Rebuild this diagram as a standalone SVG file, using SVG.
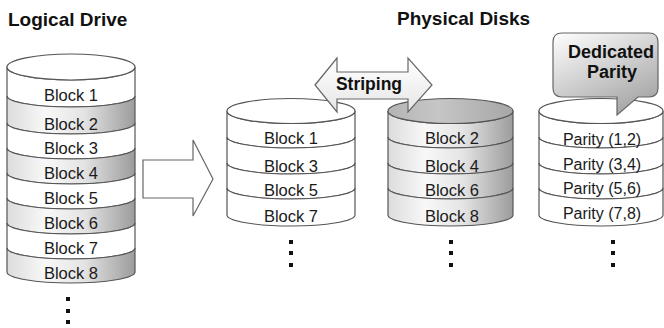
<svg xmlns="http://www.w3.org/2000/svg" width="664" height="328" viewBox="0 0 664 328">
<defs>
<linearGradient id="gBand" x1="0" y1="0" x2="1" y2="0">
<stop offset="0" stop-color="#dcdcdc"/>
<stop offset="0.3" stop-color="#f8f8f8"/>
<stop offset="0.6" stop-color="#e4e4e4"/>
<stop offset="1" stop-color="#9c9c9c"/>
</linearGradient>
<linearGradient id="gTop" x1="0" y1="0" x2="1" y2="0">
<stop offset="0" stop-color="#b4b4b4"/>
<stop offset="0.4" stop-color="#c6c6c6"/>
<stop offset="1" stop-color="#a6a6a6"/>
</linearGradient>
<linearGradient id="gCall" x1="0" y1="0" x2="0.6" y2="1">
<stop offset="0" stop-color="#ffffff"/>
<stop offset="1" stop-color="#a8a8a8"/>
</linearGradient>
<linearGradient id="gStripe" x1="0" y1="0" x2="0" y2="1">
<stop offset="0" stop-color="#ffffff"/>
<stop offset="1" stop-color="#e6e6e6"/>
</linearGradient>
</defs>
<style>
.s{stroke:#555;stroke-width:1.2;}
.w{fill:#fff;}
.g{fill:url(#gBand);}
.t{font-family:"Liberation Sans",Arial,sans-serif;font-size:16.5px;fill:#1a1a1a;text-anchor:middle;}
.p{font-family:"Liberation Sans",Arial,sans-serif;font-size:16px;fill:#1a1a1a;text-anchor:middle;}
.h{font-family:"Liberation Sans",Arial,sans-serif;font-size:19px;font-weight:bold;fill:#111;}
.b{font-family:"Liberation Sans",Arial,sans-serif;font-size:17.5px;font-weight:bold;fill:#111;text-anchor:middle;}
.d{fill:#111;}
</style>
<rect width="664" height="328" fill="#fff"/>

<text class="h" x="8" y="26">Logical Drive</text>
<text class="h" x="397" y="25">Physical Disks</text>

<g id="logical-drive">
<path class="s w" d="M7,67 V96 A64,11 0 0 0 135,96 V67 A64,13 0 0 1 7,67 Z"/>
<path class="s g" d="M7,96 V123 A64,11 0 0 0 135,123 V96 A64,11 0 0 1 7,96 Z"/>
<path class="s w" d="M7,123 V148 A64,11 0 0 0 135,148 V123 A64,11 0 0 1 7,123 Z"/>
<path class="s g" d="M7,148 V173 A64,11 0 0 0 135,173 V148 A64,11 0 0 1 7,148 Z"/>
<path class="s w" d="M7,173 V198 A64,11 0 0 0 135,198 V173 A64,11 0 0 1 7,173 Z"/>
<path class="s g" d="M7,198 V223 A64,11 0 0 0 135,223 V198 A64,11 0 0 1 7,198 Z"/>
<path class="s w" d="M7,223 V248 A64,11 0 0 0 135,248 V223 A64,11 0 0 1 7,223 Z"/>
<path class="s g" d="M7,248 V272 A64,11 0 0 0 135,272 V248 A64,11 0 0 1 7,248 Z"/>
<ellipse class="s w" cx="71" cy="67" rx="64" ry="13"/>
<text class="t" x="71" y="101">Block 1</text>
<text class="t" x="71" y="130">Block 2</text>
<text class="t" x="71" y="154">Block 3</text>
<text class="t" x="71" y="179">Block 4</text>
<text class="t" x="71" y="204">Block 5</text>
<text class="t" x="71" y="229">Block 6</text>
<text class="t" x="71" y="254">Block 7</text>
<text class="t" x="71" y="279">Block 8</text>
<rect class="d" x="66" y="297" width="4" height="4"/>
<rect class="d" x="66" y="309" width="4" height="4"/>
<rect class="d" x="66" y="320" width="4" height="4"/>
</g>

<g id="disk-1">
<path class="s w" d="M227,111 V137 A64,11 0 0 0 355,137 V111 A64,12.5 0 0 1 227,111 Z"/>
<path class="s w" d="M227,137 V163 A64,11 0 0 0 355,163 V137 A64,11 0 0 1 227,137 Z"/>
<path class="s w" d="M227,163 V188 A64,11 0 0 0 355,188 V163 A64,11 0 0 1 227,163 Z"/>
<path class="s w" d="M227,188 V215 A64,11 0 0 0 355,215 V188 A64,11 0 0 1 227,188 Z"/>
<ellipse class="s w" cx="291" cy="111" rx="64" ry="12.5"/>
<text class="t" x="291" y="144">Block 1</text>
<text class="t" x="291" y="172">Block 3</text>
<text class="t" x="291" y="196">Block 5</text>
<text class="t" x="291" y="222">Block 7</text>
<rect class="d" x="289" y="240" width="4" height="4"/>
<rect class="d" x="289" y="251" width="4" height="4"/>
<rect class="d" x="289" y="263" width="4" height="4"/>
</g>

<g id="disk-2">
<path class="s g" d="M388,111 V137 A62.5,11 0 0 0 513,137 V111 A62.5,12.5 0 0 1 388,111 Z"/>
<path class="s g" d="M388,137 V163 A62.5,11 0 0 0 513,163 V137 A62.5,11 0 0 1 388,137 Z"/>
<path class="s g" d="M388,163 V188 A62.5,11 0 0 0 513,188 V163 A62.5,11 0 0 1 388,163 Z"/>
<path class="s g" d="M388,188 V215 A62.5,11 0 0 0 513,215 V188 A62.5,11 0 0 1 388,188 Z"/>
<ellipse class="s" fill="url(#gTop)" cx="450.5" cy="111" rx="62.5" ry="12.5"/>
<text class="t" x="452" y="144">Block 2</text>
<text class="t" x="452" y="172">Block 4</text>
<text class="t" x="452" y="196">Block 6</text>
<text class="t" x="452" y="222">Block 8</text>
<rect class="d" x="449" y="240" width="4" height="4"/>
<rect class="d" x="449" y="251" width="4" height="4"/>
<rect class="d" x="449" y="263" width="4" height="4"/>
</g>

<g id="disk-3">
<path class="s w" d="M539,111 V137 A62,11 0 0 0 663,137 V111 A62,12.5 0 0 1 539,111 Z"/>
<path class="s w" d="M539,137 V163 A62,11 0 0 0 663,163 V137 A62,11 0 0 1 539,137 Z"/>
<path class="s w" d="M539,163 V188 A62,11 0 0 0 663,188 V163 A62,11 0 0 1 539,163 Z"/>
<path class="s w" d="M539,188 V215 A62,11 0 0 0 663,215 V188 A62,11 0 0 1 539,188 Z"/>
<ellipse class="s w" cx="601" cy="111" rx="62" ry="12.5"/>
<text class="p" x="602" y="145">Parity (1,2)</text>
<text class="p" x="602" y="170">Parity (3,4)</text>
<text class="p" x="602" y="194">Parity (5,6)</text>
<text class="p" x="602" y="219">Parity (7,8)</text>
<rect class="d" x="611" y="240" width="4" height="4"/>
<rect class="d" x="611" y="251" width="4" height="4"/>
<rect class="d" x="611" y="263" width="4" height="4"/>
</g>

<g id="connectors">
<path fill="#fff" stroke="#666" stroke-width="1.2" d="M143,160 H193 V140 L213,179 L193,216 V198 H143 Z"/>
<path fill="url(#gStripe)" stroke="#666" stroke-width="1.2" d="M315,85 L337,58 V72 H408 V58 L432,85 L408,112 V99 H337 V112 Z"/>
<text class="b" x="369" y="90">Striping</text>
</g>

<g id="callout">
<path fill="url(#gCall)" stroke="#666" stroke-width="1.2" d="M562,33 H649 Q658,33 658,42 V88 Q658,97 649,97 H638 L617,115 V97 H562 Q553,97 553,88 V42 Q553,33 562,33 Z"/>
<text class="b" x="611" y="58" style="font-size:18px">Dedicated</text>
<text class="b" x="612" y="78" style="font-size:18px">Parity</text>
</g>
</svg>
